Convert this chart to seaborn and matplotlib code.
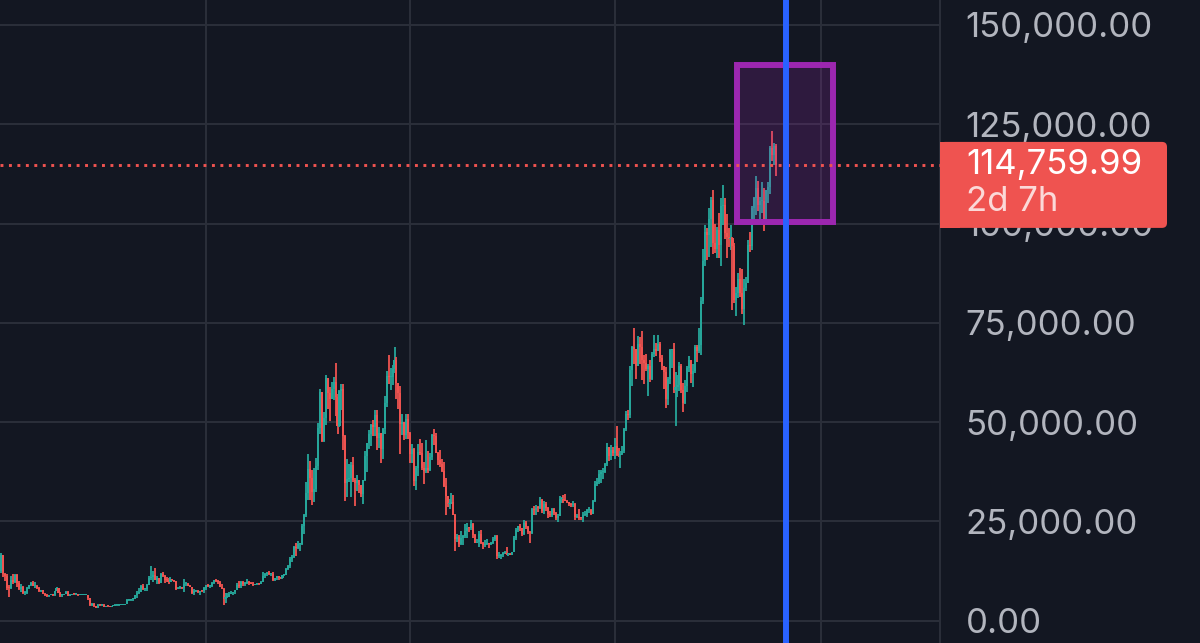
import numpy as np
import pandas as pd
import matplotlib
matplotlib.use("Agg")
import matplotlib.pyplot as plt
from matplotlib.patches import Rectangle, FancyBboxPatch
import seaborn as sns

# ------------------------------------------------------
# Weekly BTC/USD candles, thousands of USD, first week starts 2018-01-08
# (open of each week = close of the week before)
# ------------------------------------------------------
start_week = "2018-01-08"
first_open = 12.5

close_k = [
    # 2018
    16.5, 11.6, 11.2, 8.2, 8.1, 10.3, 9.6, 11.4, 9.5, 7.9, 8.5, 6.9, 7.0, 8.3, 8.9, 9.4, 8.7, 8.7,
    8.2, 7.4, 7.7, 6.8, 6.4, 6.1, 6.4, 6.7, 6.3, 7.4, 8.2, 7.0, 6.3, 6.4, 6.7, 7.3, 6.2, 6.5, 6.7,
    6.6, 6.6, 6.3, 6.4, 6.4, 6.4, 6.4, 5.6, 4.0, 4.1, 3.6, 3.2, 4.0, 3.8, 4.0,
    # 2019
    3.5, 3.6, 3.55, 3.4, 3.6, 3.6, 3.8, 3.8, 3.9, 4.0, 4.0, 4.1, 5.1, 5.1, 5.3, 5.3, 6.3, 7.0,
    7.3, 8.7, 8.0, 8.0, 8.9, 10.8, 11.0, 11.4, 10.2, 10.6, 9.5, 11.8, 11.3, 10.2, 10.1, 9.6, 10.4,
    10.3, 10.0, 8.0, 8.2, 8.3, 8.2, 9.2, 9.2, 8.8, 8.5, 7.0, 7.4, 7.5, 7.1, 7.5, 7.4, 8.1,
    # 2020
    8.9, 8.6, 8.6, 9.4, 10.2, 9.9, 9.7, 8.5, 8.0, 5.4, 5.8, 5.9, 6.8, 6.9, 7.1, 7.7, 8.9, 8.8,
    9.7, 9.2, 9.5, 9.7, 9.4, 9.3, 9.0, 9.1, 9.3, 9.2, 9.7, 11.1, 11.7, 11.8, 11.7, 11.7, 10.3,
    10.7, 11.1, 10.8, 10.7, 11.4, 11.5, 13.0, 13.8, 15.5, 16.0, 18.4, 18.2, 19.2, 19.2, 23.9,
    26.5, 32.2,
    # 2021
    38.2, 36.0, 32.3, 33.1, 38.9, 48.6, 57.5, 45.2, 50.9, 61.2, 57.4, 55.8, 58.2, 60.0, 56.2,
    49.1, 57.8, 58.2, 46.4, 34.7, 35.7, 35.8, 39.1, 35.5, 34.7, 35.3, 34.2, 31.8, 35.4, 41.5,
    44.6, 47.0, 49.3, 48.8, 51.8, 46.0, 47.3, 43.2, 48.2, 54.9, 61.5, 61.3, 61.3, 63.3, 65.5,
    59.7, 57.3, 49.4, 50.1, 46.7, 50.8, 47.3,
    # 2022
    41.9, 43.1, 35.1, 38.5, 42.4, 42.2, 38.4, 37.7, 38.4, 37.8, 41.3, 46.8, 46.4, 42.2, 40.4,
    39.4, 37.6, 34.0, 31.3, 29.4, 29.4, 29.9, 26.6, 20.6, 21.0, 19.3, 20.8, 21.2, 22.6, 23.3,
    23.2, 24.3, 21.5, 19.6, 19.8, 21.8, 19.4, 18.9, 19.3, 19.4, 19.2, 19.6, 20.6, 21.3, 16.3,
    16.3, 16.5, 17.1, 17.1, 16.8, 16.8, 16.6,
    # 2023
    17.2, 20.9, 22.7, 23.8, 23.3, 21.8, 24.6, 23.6, 22.3, 22.0, 28.0, 27.9, 28.4, 28.3, 30.3,
    27.6, 29.3, 28.4, 26.9, 26.7, 28.1, 27.1, 25.9, 26.3, 30.5, 30.6, 30.3, 30.2, 29.8, 29.3,
    29.1, 29.4, 26.1, 26.1, 25.9, 25.8, 26.5, 26.5, 27.9, 27.9, 26.9, 30.0, 34.5, 35.0, 37.0,
    37.4, 37.5, 39.5, 43.8, 41.4, 43.0, 42.3,
    # 2024
    43.9, 41.7, 41.6, 42.0, 42.6, 48.3, 52.1, 51.7, 63.1, 68.9, 68.4, 64.0, 69.6, 69.0, 65.7,
    64.9, 63.4, 64.0, 60.8, 67.1, 68.5, 67.8, 69.6, 66.2, 64.2, 62.7, 55.8, 60.8, 68.2, 68.3,
    58.1, 58.7, 59.4, 64.2, 58.0, 54.8, 59.1, 63.6, 65.6, 62.1, 62.9, 69.0, 67.9, 69.4, 80.4,
    90.6, 97.9, 97.0, 101.2, 106.0, 95.2, 93.7, 98.3,
    # 2025
    94.5, 104.4, 104.7, 97.7, 96.5, 96.1, 96.3, 94.3, 80.7, 82.6, 86.1, 82.4, 78.4, 83.7, 85.1,
    94.6, 94.3, 104.0, 106.5, 109.0, 104.6, 105.6, 105.6, 100.9, 108.4, 109.2, 119.1, 117.3,
    119.4, 114.76,
]

high_k = [
    # 2018
    17.0, 16.6, 12.0, 11.7, 8.9, 11.2, 11.8, 11.7, 11.7, 9.9, 9.2, 8.8, 7.5, 8.4, 9.0, 9.7, 9.9,
    9.6, 8.9, 8.5, 7.8, 7.8, 6.9, 6.8, 6.5, 6.8, 6.8, 7.5, 8.5, 8.3, 7.2, 6.6, 6.8, 7.4, 7.4,
    6.6, 6.8, 6.8, 6.7, 6.7, 6.8, 6.5, 6.5, 6.6, 6.5, 5.6, 4.4, 4.3, 3.6, 4.2, 4.2, 4.1,
    # 2019
    4.1, 3.7, 3.7, 3.6, 3.7, 3.7, 4.2, 3.9, 3.95, 4.05, 4.1, 4.15, 5.3, 5.5, 5.4, 5.7, 6.4, 7.5,
    8.3, 8.9, 9.1, 8.1, 9.3, 11.3, 13.8, 12.4, 13.2, 11.1, 10.6, 11.9, 12.3, 11.5, 10.9, 10.6,
    10.9, 10.5, 10.3, 10.0, 8.5, 8.8, 8.4, 10.4, 9.8, 9.5, 8.9, 8.5, 7.9, 7.7, 7.6, 7.5, 7.7, 8.4,
    # 2020
    9.0, 9.2, 8.8, 9.6, 10.2, 10.5, 10.2, 9.9, 9.2, 8.2, 6.9, 6.9, 7.2, 7.5, 7.3, 7.8, 9.5,
    10.0, 9.9, 9.9, 9.6, 10.4, 9.9, 9.6, 9.8, 9.3, 9.4, 9.3, 9.9, 12.1, 11.9, 12.1, 12.5, 11.8,
    12.1, 10.8, 11.2, 10.9, 10.9, 11.5, 11.7, 13.3, 14.0, 15.9, 16.5, 18.8, 19.4, 19.9, 19.4,
    24.2, 26.9, 34.8,
    # 2021
    41.9, 40.1, 37.9, 38.5, 40.9, 49.7, 58.4, 57.5, 52.6, 61.8, 60.6, 58.9, 60.2, 61.3, 64.8,
    57.0, 58.0, 59.6, 59.5, 46.6, 40.8, 39.4, 40.0, 41.3, 36.0, 36.6, 35.2, 34.1, 35.4, 42.6,
    44.8, 48.1, 49.4, 50.5, 52.9, 52.9, 48.8, 47.3, 48.4, 56.5, 62.9, 67.0, 63.7, 64.3, 69.0,
    66.3, 59.3, 59.0, 51.9, 50.0, 51.9, 52.0,
    # 2022
    47.5, 44.5, 43.5, 38.9, 44.4, 45.8, 44.8, 40.0, 45.4, 42.6, 42.3, 46.9, 48.2, 47.2, 42.4,
    42.9, 40.8, 39.9, 35.9, 30.7, 30.6, 32.2, 31.7, 26.9, 21.9, 21.5, 22.5, 21.5, 24.3, 24.6,
    23.6, 25.2, 24.5, 21.8, 20.6, 22.5, 22.8, 19.7, 20.4, 20.5, 19.5, 19.7, 21.0, 21.5, 21.5,
    17.2, 16.8, 17.3, 17.4, 18.4, 17.1, 16.9,
    # 2023
    17.3, 21.2, 23.3, 23.9, 24.2, 23.4, 25.2, 25.1, 23.9, 22.6, 28.4, 28.9, 29.2, 28.8, 31.0,
    30.5, 30.0, 29.8, 28.6, 27.6, 28.4, 28.4, 27.4, 26.8, 31.4, 31.0, 31.5, 31.8, 30.4, 29.7,
    29.5, 30.2, 29.7, 26.8, 28.1, 26.1, 27.4, 27.5, 28.1, 28.6, 28.0, 30.4, 35.2, 35.9, 38.0,
    37.9, 38.4, 39.7, 44.7, 43.4, 44.3, 43.8,
    # 2024
    45.9, 49.0, 43.5, 42.8, 43.9, 48.6, 52.8, 52.9, 64.0, 69.2, 73.7, 68.1, 71.7, 71.3, 72.8,
    66.9, 67.2, 64.7, 65.5, 67.7, 71.9, 70.0, 72.0, 70.2, 66.9, 63.9, 63.8, 61.4, 68.4, 68.5,
    70.0, 62.7, 61.8, 65.0, 64.5, 59.8, 60.6, 64.1, 66.5, 65.6, 64.5, 69.4, 69.5, 73.6, 81.5,
    93.5, 99.6, 98.9, 103.9, 106.6, 108.4, 99.9, 99.0,
    # 2025
    102.7, 106.3, 109.6, 106.4, 102.5, 98.8, 99.5, 96.5, 95.0, 84.0, 87.5, 88.8, 88.5, 86.1,
    86.4, 95.8, 97.9, 104.3, 106.7, 111.9, 110.7, 106.8, 110.5, 108.9, 108.5, 110.5, 119.5,
    123.2, 120.2, 120.0,
]

low_k = [
    # 2018
    12.0, 11.0, 10.0, 7.7, 6.0, 8.0, 9.3, 9.4, 8.4, 7.7, 7.3, 6.6, 6.4, 6.6, 7.9, 8.7, 8.6, 8.3,
    7.9, 7.2, 7.1, 6.6, 6.1, 5.8, 5.8, 6.3, 6.1, 6.2, 7.4, 6.9, 6.0, 5.9, 6.3, 6.7, 6.1, 6.2,
    6.3, 6.4, 6.5, 6.2, 6.3, 6.3, 6.3, 6.3, 5.2, 3.6, 3.6, 3.4, 3.1, 3.2, 3.6, 3.7,
    # 2019
    3.4, 3.5, 3.5, 3.35, 3.4, 3.55, 3.6, 3.7, 3.7, 3.85, 3.9, 3.95, 4.1, 4.9, 5.0, 5.0, 5.3,
    5.7, 6.6, 7.4, 7.8, 7.4, 7.5, 8.9, 10.3, 9.6, 10.1, 9.1, 9.3, 9.4, 11.0, 9.5, 9.8, 9.3, 9.6,
    9.9, 9.6, 7.8, 7.9, 7.9, 7.9, 7.3, 8.8, 8.6, 8.4, 6.8, 6.5, 7.1, 7.0, 6.5, 7.1, 6.9,
    # 2020
    7.7, 8.5, 8.3, 8.5, 9.1, 9.6, 9.3, 8.4, 7.9, 3.8, 4.4, 5.7, 5.9, 6.7, 6.5, 6.8, 7.6, 8.1,
    8.2, 8.8, 8.6, 9.2, 8.9, 9.2, 8.8, 8.9, 9.0, 9.0, 9.1, 9.6, 10.6, 11.1, 11.4, 11.1, 9.9,
    9.9, 10.2, 10.1, 10.4, 10.5, 11.2, 11.4, 12.8, 13.2, 14.8, 15.8, 16.2, 18.0, 17.6, 19.0,
    21.8, 26.0,
    # 2021
    30.3, 30.4, 29.2, 29.9, 32.3, 37.9, 47.0, 44.9, 45.0, 49.3, 53.3, 50.3, 55.8, 55.5, 51.5,
    47.0, 48.8, 53.1, 42.9, 30.0, 31.2, 34.8, 31.0, 34.8, 28.8, 32.7, 32.1, 31.1, 29.3, 35.2,
    37.5, 43.3, 43.9, 46.4, 46.5, 43.0, 43.4, 39.6, 40.8, 47.1, 53.8, 59.6, 58.0, 59.4, 62.3,
    55.7, 53.3, 42.0, 46.8, 45.5, 45.6, 45.7,
    # 2022
    39.7, 39.6, 34.0, 32.9, 36.3, 41.7, 37.9, 34.3, 37.2, 37.2, 37.6, 40.5, 44.2, 42.1, 39.2,
    38.6, 37.5, 33.7, 26.7, 28.7, 28.0, 29.3, 26.5, 17.6, 19.8, 18.6, 19.0, 18.9, 20.8, 20.7,
    22.4, 22.7, 20.8, 19.5, 19.5, 18.5, 19.3, 18.1, 18.5, 19.0, 18.2, 18.9, 19.3, 20.1, 15.6,
    15.8, 15.5, 16.0, 16.7, 16.6, 16.3, 16.4,
    # 2023
    16.5, 17.2, 20.4, 22.3, 22.5, 21.4, 21.5, 23.1, 21.9, 19.6, 21.9, 26.6, 26.6, 27.3, 28.1,
    27.1, 26.9, 27.7, 25.8, 26.1, 26.1, 26.6, 25.4, 24.8, 26.3, 29.5, 29.7, 30.0, 29.5, 28.9,
    28.6, 28.7, 25.2, 25.8, 25.4, 25.3, 24.9, 26.2, 26.0, 27.2, 26.6, 26.9, 29.8, 33.9, 34.5,
    34.7, 35.7, 37.2, 39.0, 40.2, 40.5, 41.4,
    # 2024
    40.8, 41.5, 41.1, 38.5, 41.8, 42.3, 47.7, 50.5, 50.9, 59.0, 64.6, 60.8, 66.6, 64.5, 60.7,
    59.6, 62.8, 56.5, 60.2, 60.6, 66.3, 66.6, 68.5, 65.1, 63.0, 58.4, 53.5, 54.3, 59.6, 63.5,
    57.2, 49.0, 56.2, 57.9, 57.2, 52.5, 54.6, 57.5, 62.6, 59.8, 58.9, 62.4, 65.1, 67.5, 66.8,
    79.8, 89.3, 90.8, 91.5, 94.2, 92.2, 92.5, 91.2,
    # 2025
    91.2, 89.3, 99.5, 96.2, 91.2, 94.1, 93.3, 78.2, 80.0, 76.6, 81.2, 81.6, 77.2, 74.5, 83.1,
    85.1, 92.8, 93.4, 100.7, 102.1, 103.1, 100.4, 102.6, 98.2, 99.6, 105.2, 107.4, 115.7,
    114.7, 112.0,
]

price_ticks = [0, 25000, 50000, 75000, 100000, 125000, 150000]
grid_weeks = ["2020-01-06", "2022-01-03", "2024-01-01", "2026-01-05"]
marker_date = "2025-09-02"
box_dates = ("2025-03-12", "2026-02-17")
box_prices = (100500, 140000)
last_price = 114759.99
countdown = "2d 7h"

# ------------------------------------------------------
# Build OHLC table
# ------------------------------------------------------
df = pd.DataFrame({"close": close_k, "high": high_k, "low": low_k}) * 1000
df["open"] = df["close"].shift(1).fillna(first_open * 1000)
df["high"] = df[["high", "open", "close"]].max(axis=1)
df["low"] = df[["low", "open", "close"]].min(axis=1)
df["x"] = np.arange(len(df))
df["up"] = df["close"] >= df["open"]

start = pd.Timestamp(start_week)


def week_pos(day):
    return (pd.Timestamp(day) - start).days / 7


# ------------------------------------------------------
# Style
# ------------------------------------------------------
BG = "#131722"
GRID = "#2a2e39"
UP = "#26a69a"
DOWN = "#ef5350"

sns.set_theme(style="darkgrid", rc={
    "axes.facecolor": BG,
    "figure.facecolor": BG,
    "grid.color": GRID,
    "grid.linewidth": 1.5,
    "axes.edgecolor": GRID,
})
plt.rcParams["font.family"] = ["Inter", "DejaVu Sans"]

fig = plt.figure(figsize=(12, 6.43), dpi=100)
ax = fig.add_axes([0, 0, 940 / 1200, 1])

ymin, ymax = -5667, 156297
ax.set_xlim(-0.76, 477.6)
ax.set_ylim(ymin, ymax)

# candles
colors = np.where(df["up"], UP, DOWN)
upp = (ymax - ymin) / 643  # USD per pixel
body = np.maximum((df["close"] - df["open"]).abs(), upp)
ax.vlines(df["x"], df["low"], df["high"], colors=colors, lw=1.3, zorder=2)
ax.bar(df["x"], body, bottom=df[["open", "close"]].min(axis=1), width=1.05,
       color=colors, linewidth=0, zorder=2)

# drawings
bx0, bx1 = week_pos(box_dates[0]), week_pos(box_dates[1])
ax.add_patch(Rectangle((bx0, box_prices[0]), bx1 - bx0, box_prices[1] - box_prices[0],
                       facecolor=(156 / 255, 39 / 255, 176 / 255, 0.2),
                       edgecolor="#9c27b0", lw=4.3, zorder=3))
ax.axhline(last_price, color=DOWN, lw=2.1, linestyle=(0, (1, 1.9)), zorder=4)
ax.axvline(week_pos(marker_date), color="#2962ff", lw=4.3, zorder=5)

# axes / grid
ax.set_xticks([week_pos(d) for d in grid_weeks])
ax.tick_params(axis="x", length=0, labelbottom=False)
ax.set_yticks(price_ticks)
ax.set_yticklabels([f"{v:,.2f}" for v in price_ticks])
ax.yaxis.tick_right()
ax.tick_params(axis="y", length=0, pad=18.5, labelsize=25, labelcolor="#b2b5be")
for side in ["left", "top", "bottom"]:
    ax.spines[side].set_visible(False)
ax.spines["right"].set_visible(True)
ax.spines["right"].set_color(GRID)
ax.spines["right"].set_linewidth(1.5)

# last price label on the price scale
lab = fig.add_axes([940 / 1200, 0, 260 / 1200, 1])
lab.set_xlim(0, 260)
lab.set_ylim(ymin, ymax)
lab.axis("off")
y0 = last_price - 63 * upp
h = 86 * upp
lab.add_patch(Rectangle((0, y0), 20, h, facecolor=DOWN, lw=0))
lab.add_patch(FancyBboxPatch((0, y0), 227, h, boxstyle="round,pad=0,rounding_size=5",
                             mutation_aspect=upp, facecolor=DOWN, lw=0))
lab.text(26, last_price, f"{last_price:,.2f}", color="white", fontsize=25, va="center")
lab.text(26, last_price - 37 * upp, countdown, color="#fbd9d8", fontsize=25, va="center")

fig.savefig("out.png", dpi=100, facecolor=fig.get_facecolor())
